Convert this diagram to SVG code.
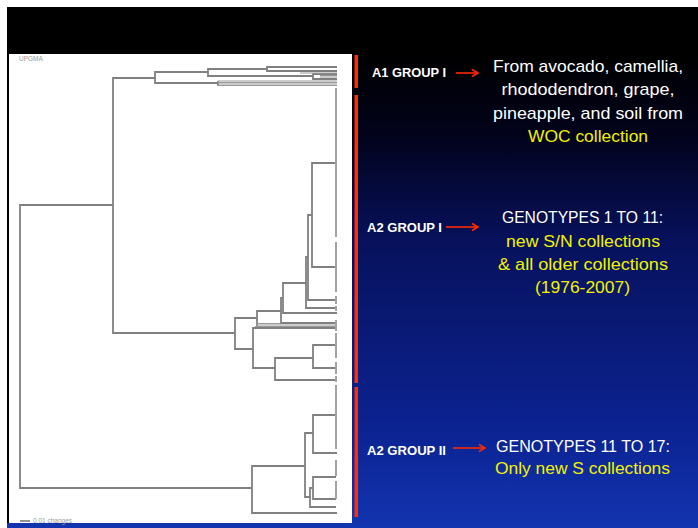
<svg xmlns="http://www.w3.org/2000/svg" width="698" height="528" viewBox="0 0 698 528">
<defs>
<linearGradient id="bg" x1="0" y1="0" x2="0" y2="1">
<stop offset="0" stop-color="#000000"/>
<stop offset="0.09" stop-color="#000000"/>
<stop offset="0.25" stop-color="#02031c"/>
<stop offset="0.45" stop-color="#07115c"/>
<stop offset="0.8" stop-color="#0b2290"/>
<stop offset="1" stop-color="#1334b0"/>
</linearGradient>
<marker id="ah" markerWidth="10" markerHeight="10" refX="7" refY="5" orient="auto" markerUnits="userSpaceOnUse">
<path d="M1 1.5 L7 5 L1 8.5" fill="none" stroke="#ff2a00" stroke-width="1.6"/>
</marker>
<style>
.tree{fill:none;stroke:#808080;stroke-width:1.8;stroke-linejoin:miter}
.leaf{fill:none;stroke:#a3a3a3;stroke-width:2}
.band{fill:none;stroke:#999;stroke-width:1.2}
.bar{fill:#ff2d00}
.arrow{fill:none;stroke:#ff2a00;stroke-width:1.6;marker-end:url(#ah)}
.lbl{font-family:"Liberation Sans",Arial,sans-serif;font-weight:bold;font-size:12px;fill:#ffffff}
.w{font-family:"Liberation Sans",Arial,sans-serif;font-size:17px;fill:#ffffff;text-anchor:middle}
.y{font-family:"Liberation Sans",Arial,sans-serif;font-size:17px;fill:#f2f200;text-anchor:middle}
.small{font-family:"Liberation Sans",Arial,sans-serif;font-size:6.5px;fill:#9a9a9a}
</style>
</defs>
<rect x="0" y="0" width="698" height="528" fill="#ffffff"/>
<rect x="7" y="7" width="691" height="521" fill="url(#bg)"/>
<rect x="7" y="54" width="2" height="469" fill="#000000"/>
<rect x="9" y="54" width="343" height="469" fill="#ffffff"/>

<g id="dendrogram">
<text class="small" x="19" y="61">UPGMA</text>
<path class="tree" d="M113 205 H20 V488 H252"/>
<path class="tree" d="M155 78 H113 V333 H235"/>
<path class="tree" d="M208 72 H155 V83 H218"/>
<path class="tree" d="M267 69 H208 V76 H313"/>
<path class="tree" d="M337 67 H267 V71 H337"/>
<path class="tree" d="M337 74 H313 V79 H337"/>
<path class="tree" d="M218 81 V86"/>
<path class="band" d="M218 81 H337 M218 82.5 H337 M218 84 H337 M218 85.5 H337 M300 73 H337 M320 75.5 H337 M320 77 H337"/>
<path class="tree" d="M257 318 H235 V349 H253"/>
<path class="tree" d="M281 311 H257 V326"/>
<path class="band" d="M257 323.5 H337 M257 325 H337 M255 326.5 H337 M253 328 H337"/>
<path class="tree" d="M337 328 H253 V368 H275"/>
<path class="tree" d="M283 298 H281 V323 H337"/>
<path class="tree" d="M306 283 H283 V313 H337"/>
<path class="tree" d="M308 257 H306 V308 H337"/>
<path class="tree" d="M312 215 H308 V300 H337"/>
<path class="tree" d="M336 163 H312 V267 H336"/>
<path class="tree" d="M313 358 H275 V380 H337"/>
<path class="tree" d="M337 345 H313 V368 H337"/>
<path class="leaf" d="M336 88 V237 M336 242 V292 M336 296 V304 M336 306 V311 M336 320 V331 M336 333 V358 M336 362 V374 M336 376 V382"/>
<path class="tree" d="M313 433 H305 V497 H310"/>
<path class="tree" d="M305 466 H252 V513 H337"/>
<path class="tree" d="M336 415 H313 V453 H337"/>
<path class="tree" d="M313 488 H310 V507 H336"/>
<path class="tree" d="M336 477 H313 V499 H336"/>
<path class="leaf" d="M336 385 V449 M336 460 V476 M336 481 V499"/>
<path d="M20 521 H30" stroke="#777" stroke-width="1.6"/>
<text class="small" x="33" y="523">0.01 changes</text>
</g>

<g id="bars">
<rect class="bar" x="354.5" y="55" width="3.5" height="33"/>
<rect class="bar" x="354.5" y="95" width="3.5" height="288"/>
<rect class="bar" x="354.5" y="387" width="3.5" height="130"/>
</g>

<g id="a1-label"><text class="lbl" x="372" y="77" textLength="74" lengthAdjust="spacingAndGlyphs">A1 GROUP I</text></g>
<g id="a2i-label"><text class="lbl" x="367" y="232" textLength="75" lengthAdjust="spacingAndGlyphs">A2 GROUP I</text></g>
<g id="a2ii-label"><text class="lbl" x="367" y="455" textLength="79" lengthAdjust="spacingAndGlyphs">A2 GROUP II</text></g>

<g id="a1-desc">
<text class="w" x="588" y="72" textLength="190" lengthAdjust="spacingAndGlyphs">From avocado, camellia,</text>
<text class="w" x="588" y="95" textLength="173" lengthAdjust="spacingAndGlyphs">rhododendron, grape,</text>
<text class="w" x="588" y="118.5" textLength="190" lengthAdjust="spacingAndGlyphs">pineapple, and soil from</text>
<text class="y" x="588" y="142" textLength="120" lengthAdjust="spacingAndGlyphs">WOC collection</text>
</g>
<g id="a2i-desc">
<text class="w" x="582.5" y="223" textLength="161" lengthAdjust="spacingAndGlyphs">GENOTYPES 1 TO 11:</text>
<text class="y" x="583" y="247" textLength="154" lengthAdjust="spacingAndGlyphs">new S/N collections</text>
<text class="y" x="583" y="270" textLength="170" lengthAdjust="spacingAndGlyphs">&amp; all older collections</text>
<text class="y" x="582.5" y="293" textLength="95" lengthAdjust="spacingAndGlyphs">(1976-2007)</text>
</g>
<g id="a2ii-desc">
<text class="w" x="583" y="452" textLength="174" lengthAdjust="spacingAndGlyphs">GENOTYPES 11 TO 17:</text>
<text class="y" x="582.5" y="474" textLength="175" lengthAdjust="spacingAndGlyphs">Only new S collections</text>
</g>

<g id="connectors">
<path class="arrow" d="M456 73 H478"/>
<path class="arrow" d="M446 227 H478"/>
<path class="arrow" d="M453 448 H485"/>
</g>
</svg>
